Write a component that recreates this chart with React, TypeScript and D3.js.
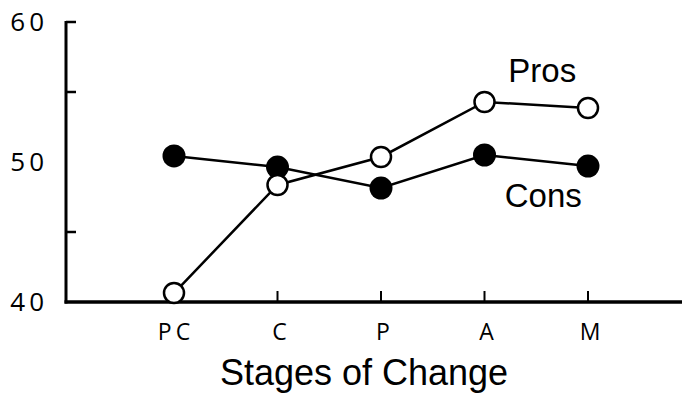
import React from "react";
import * as d3 from "d3";

const stages = ["PC", "C", "P", "A", "M"];
const pros = [40.64, 48.36, 50.36, 54.29, 53.86];
const cons = [50.43, 49.64, 48.14, 50.5, 49.71];
const yTicks = [40, 45, 50, 55, 60];
const yTickLabels = [40, 50, 60];

const width = 682;
const height = 393;

const App = () => {
  const axisX = 66;
  const axisY = 302;

  const xScale = d3.scalePoint<string>().domain(stages).range([174, 588]);
  const yScale = d3.scaleLinear().domain([40, 60]).range([axisY, 22]);

  const line = d3
    .line<number>()
    .x((_, i) => xScale(stages[i]) as number)
    .y((d) => yScale(d));

  const tickFont = "'Open Sans', 'DejaVu Sans', sans-serif";
  const labelFont = "'Liberation Sans', Arial, Helvetica, sans-serif";

  return (
    <svg
      width={width}
      height={height}
      style={{ position: "absolute", left: 0, top: 0, background: "#fff" }}
    >
      {/* y axis */}
      <line x1={axisX} x2={axisX} y1={yScale(60) - 1} y2={axisY + 1.5} stroke="#000" strokeWidth={3} />
      {yTicks
        .filter((t) => t !== 50 && t !== 40)
        .map((t) => (
          <line key={t} x1={axisX} x2={axisX + 10} y1={yScale(t)} y2={yScale(t)} stroke="#000" strokeWidth={2.5} />
        ))}
      {yTickLabels.map((t) => (
        <text
          key={t}
          x={48}
          y={yScale(t)}
          dy="0.36em"
          textAnchor="end"
          fontFamily={tickFont}
          fontSize={26}
          letterSpacing={4}
          fill="#000"
        >
          {t}
        </text>
      ))}

      {/* x axis */}
      <line x1={axisX - 1.5} x2={width} y1={axisY} y2={axisY} stroke="#000" strokeWidth={3.5} />
      {stages.map((s) => (
        <g key={s}>
          <line x1={xScale(s)} x2={xScale(s)} y1={axisY} y2={axisY - 11} stroke="#000" strokeWidth={2} />
          <text
            x={(xScale(s) as number) + 2}
            y={340}
            textAnchor="middle"
            fontFamily={tickFont}
            fontSize={23}
            letterSpacing={s.length > 1 ? 4 : 0}
            fill="#000"
          >
            {s}
          </text>
        </g>
      ))}
      <text
        x={364}
        y={385}
        textAnchor="middle"
        fontFamily={labelFont}
        fontSize={36}
        fill="#000"
      >
        Stages of Change
      </text>

      {/* lines */}
      <path d={line(cons) ?? ""} fill="none" stroke="#000" strokeWidth={2.5} />
      <path d={line(pros) ?? ""} fill="none" stroke="#000" strokeWidth={2.5} />

      {cons.map((v, i) => (
        <circle key={"c" + i} cx={xScale(stages[i])} cy={yScale(v)} r={11.5} fill="#000" />
      ))}
      {pros.map((v, i) => (
        <circle
          key={"p" + i}
          cx={xScale(stages[i])}
          cy={yScale(v)}
          r={10}
          fill="#fff"
          stroke="#000"
          strokeWidth={2.5}
        />
      ))}

      {/* series labels */}
      <text
        x={((xScale("A") as number) + (xScale("M") as number)) / 2 + 6}
        y={82}
        textAnchor="middle"
        fontFamily={labelFont}
        fontSize={33}
        fill="#000"
      >
        Pros
      </text>
      <text
        x={((xScale("A") as number) + (xScale("M") as number)) / 2 + 7}
        y={207}
        textAnchor="middle"
        fontFamily={labelFont}
        fontSize={33}
        fill="#000"
      >
        Cons
      </text>
    </svg>
  );
};

export default App;
